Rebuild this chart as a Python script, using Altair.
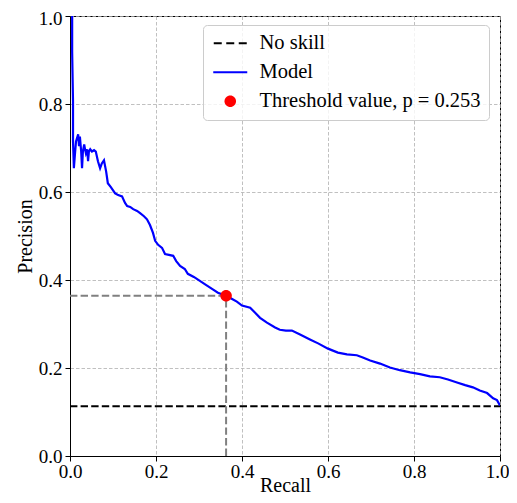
import altair as alt
import pandas as pd

# Precision-recall curve
recall = [0.005,0.005,0.005,0.007,0.007,0.009,0.012,0.014,0.019,0.021,
          0.023,0.026,0.028,0.030,0.033,0.035,0.037,0.040,0.042,0.044,
          0.047,0.051,0.056,0.060,0.065,0.070,0.074,0.079,0.084,0.088,
          0.095,0.105,0.112,0.121,0.128,0.133,0.140,0.147,0.156,0.163,
          0.172,0.179,0.186,0.193,0.198,0.205,0.214,0.221,0.230,0.240,
          0.247,0.256,0.267,0.274,0.288,0.302,0.316,0.333,0.344,0.363,
          0.377,0.388,0.400,0.419,0.430,0.442,0.458,0.477,0.488,0.502,
          0.516,0.535,0.558,0.577,0.600,0.623,0.644,0.667,0.681,0.698,
          0.721,0.744,0.767,0.791,0.814,0.837,0.860,0.879,0.900,0.919,
          0.937,0.953,0.970,0.984,0.993,1.000]
precision = [1.000,0.941,0.919,0.805,0.715,0.654,0.692,0.715,0.731,0.704,
             0.726,0.692,0.654,0.692,0.708,0.697,0.688,0.697,0.670,0.692,
             0.697,0.692,0.695,0.692,0.670,0.654,0.665,0.672,0.647,0.620,
             0.611,0.597,0.593,0.590,0.575,0.568,0.566,0.561,0.557,0.552,
             0.545,0.538,0.525,0.507,0.489,0.480,0.473,0.459,0.457,0.455,
             0.443,0.432,0.425,0.414,0.407,0.398,0.389,0.378,0.371,0.364,
             0.357,0.351,0.342,0.337,0.326,0.314,0.303,0.292,0.287,0.285,
             0.285,0.276,0.265,0.256,0.244,0.235,0.231,0.229,0.224,0.217,
             0.210,0.201,0.195,0.190,0.186,0.181,0.179,0.174,0.167,0.161,
             0.156,0.149,0.143,0.131,0.127,0.115]

no_skill_recall = [0.0, 1.0]
no_skill_precision = [0.113, 0.113]
threshold_recall = [0.363]
threshold_precision = [0.364]
series_names = ["No skill", "Model", "Threshold value, p = 0.253"]
series_colors = ["black", "blue", "red"]
tick_values = [0.0, 0.2, 0.4, 0.6, 0.8, 1.0]

FONT = "Liberation Serif"
DASH = [7.4, 3.2]

# legend glyphs (unit-box symbol paths): dashed line, solid line, dot
SYM_DASHED = "M-3.3,-0.2H-1.7V0.2H-3.3Z M-0.8,-0.2H0.8V0.2H-0.8Z M1.7,-0.2H3.3V0.2H1.7Z"
SYM_SOLID = "M-3.4,-0.2H3.4V0.2H-3.4Z"
SYM_DOT = "M-1.15,0A1.15,1.15,0,1,0,1.15,0A1.15,1.15,0,1,0,-1.15,0Z"

model_df = pd.DataFrame({"recall": recall, "precision": precision,
                         "idx": list(range(len(recall)))})
noskill_df = pd.DataFrame({"recall": no_skill_recall, "precision": no_skill_precision,
                           "idx": [0, 1]})
thr_df = pd.DataFrame({"recall": threshold_recall, "precision": threshold_precision,
                       "series": [series_names[2]]})
hguide = pd.DataFrame({"x0": [0.0], "x1": threshold_recall, "y": threshold_precision})
vguide = pd.DataFrame({"x": threshold_recall, "y0": [0.0], "y1": threshold_precision})

xscale = alt.Scale(domain=[0, 1], nice=False, zero=False)
yscale = alt.Scale(domain=[0, 1], nice=False, zero=False)

axis_common = dict(values=tick_values, format=".1f",
                   labelFont=FONT, labelFontSize=19, labelColor="black",
                   titleFont=FONT, titleFontSize=20, titleColor="black", titleFontWeight="normal",
                   tickColor="black", tickSize=5, tickWidth=1,
                   domainColor="black", domainWidth=1,
                   grid=True, gridColor="#b0b0b0", gridDash=[3.5, 2], gridWidth=0.8,
                   labelFlush=False, labelOverlap=False)
xaxis = alt.Axis(labelPadding=1, titleBaseline="alphabetic", titleY=35,
                 labelOffset={"condition": {"test": "datum.value === 1", "value": -3}, "value": 0},
                 **axis_common)
yaxis = alt.Axis(labelPadding=3, titlePadding=3,
                 labelOffset={"condition": {"test": "datum.value === 1", "value": 2}, "value": 0},
                 **axis_common)

legend = alt.Legend(
    title=None,
    orient="none",
    legendX=133,
    legendY=9,
    padding=8,
    fillColor="rgba(255,255,255,0.8)",
    strokeColor="#cccccc",
    cornerRadius=4,
    labelFont=FONT,
    labelFontSize=20.5,
    labelColor="black",
    labelLimit=400,
    labelOffset=19,
    symbolSize=100,
    symbolOffset=9,
    symbolOpacity=1,
    symbolStrokeWidth=0,
    rowPadding=8,
)

xenc = alt.X("recall:Q", scale=xscale, title="Recall", axis=xaxis)
yenc = alt.Y("precision:Q", scale=yscale, title="Precision", axis=yaxis)

noskill = alt.Chart(noskill_df).mark_line(color="black", strokeWidth=2, strokeDash=DASH, clip=True).encode(
    x=xenc, y=yenc, order="idx:Q")

hg = alt.Chart(hguide).mark_rule(color="gray", strokeWidth=2, strokeDash=DASH).encode(
    x=alt.X("x0:Q", scale=xscale), x2="x1:Q", y=alt.Y("y:Q", scale=yscale))
vg = alt.Chart(vguide).mark_rule(color="gray", strokeWidth=2, strokeDash=DASH).encode(
    x=alt.X("x:Q", scale=xscale), y=alt.Y("y0:Q", scale=yscale), y2="y1:Q")

model = alt.Chart(model_df).mark_line(color="blue", strokeWidth=2.2, clip=True).encode(
    x=xenc, y=yenc, order="idx:Q")

point = alt.Chart(thr_df).mark_point(filled=True, size=100, opacity=1, strokeWidth=0).encode(
    x=xenc, y=yenc,
    color=alt.Color("series:N", scale=alt.Scale(domain=series_names, range=series_colors), legend=legend),
    shape=alt.Shape("series:N", scale=alt.Scale(domain=series_names, range=[SYM_DASHED, SYM_SOLID, SYM_DOT]), legend=legend),
)

chart = alt.layer(noskill, hg, vg, model, point).properties(
    width=430, height=440,
    padding={"left": 62, "top": 8, "right": 9, "bottom": 39},
    autosize="none",
).configure(
    font=FONT
).configure_view(
    stroke="black", strokeWidth=1
)

chart.save("out.html", embed_options={"renderer": "svg", "actions": False})
